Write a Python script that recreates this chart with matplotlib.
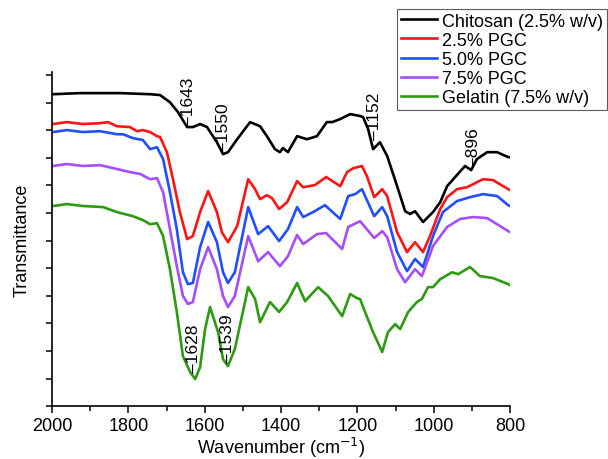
"""
FTIR spectra: chitosan, PGC films and gelatin (2000-800 cm-1).
"""

import numpy as np
import matplotlib.pyplot as plt
from matplotlib.ticker import MultipleLocator

plt.rcParams['font.family'] = ['Liberation Sans', 'DejaVu Sans']

# wavenumber (cm-1) and transmittance (a.u., offset curves)
wn_chitosan = [1997, 1927, 1822, 1743, 1717, 1691, 1670, 1646, 1631, 1612, 1594,
               1568, 1552, 1539, 1515, 1481, 1455, 1437, 1416, 1403, 1395, 1382,
               1358, 1332, 1306, 1280, 1266, 1245, 1219, 1193, 1185, 1172, 1159,
               1141, 1122, 1096, 1075, 1062, 1049, 1028, 1002, 983, 965, 949,
               918, 902, 887, 860, 834, 805, 800]
t_chitosan = [113.0, 113.4, 113.4, 113.0, 112.7, 110.1, 106.5, 101.1, 101.1, 102.2, 101.1,
              95.6, 91.3, 92.0, 96.7, 102.9, 101.4, 97.8, 93.1, 92.0, 93.5, 92.0,
              97.8, 96.7, 97.8, 102.9, 102.9, 104.0, 105.8, 105.1, 104.7, 100.4, 93.1,
              95.6, 90.6, 79.7, 70.6, 69.6, 70.6, 66.7, 70.3, 73.9, 79.7, 82.2,
              87.0, 85.5, 89.5, 92.0, 92.0, 90.2, 90.2]

wn_pgc25 = [1997, 1961, 1919, 1874, 1853, 1830, 1796, 1777, 1762, 1743, 1725,
            1717, 1699, 1683, 1665, 1646, 1631, 1612, 1591, 1568, 1555, 1539,
            1515, 1486, 1468, 1455, 1437, 1424, 1405, 1384, 1358, 1342, 1311,
            1282, 1245, 1227, 1211, 1188, 1175, 1156, 1135, 1122, 1096, 1070,
            1049, 1028, 1010, 983, 965, 939, 913, 897, 871, 845, 805, 800]
t_pgc25 = [102.2, 102.9, 102.2, 102.5, 102.9, 101.4, 101.1, 99.6, 100.0, 99.3, 97.8,
           97.5, 92.0, 82.2, 70.3, 60.5, 61.6, 70.3, 77.9, 70.3, 63.0, 59.4,
           65.2, 82.2, 78.6, 75.0, 76.4, 75.4, 71.4, 73.9, 81.5, 79.3, 80.1,
           83.0, 79.7, 84.8, 86.2, 87.0, 83.3, 75.7, 78.6, 76.1, 63.0, 55.8,
           59.4, 55.8, 61.6, 71.4, 75.7, 78.6, 79.3, 80.4, 82.2, 81.9, 78.6, 78.3]

wn_pgc50 = [1997, 1961, 1919, 1874, 1830, 1814, 1788, 1762, 1743, 1725, 1709,
            1691, 1673, 1657, 1644, 1631, 1612, 1591, 1568, 1552, 1539, 1521,
            1486, 1460, 1434, 1405, 1382, 1358, 1342, 1316, 1285, 1245, 1224,
            1206, 1188, 1156, 1135, 1122, 1096, 1070, 1049, 1028, 1002, 976,
            939, 905, 871, 834, 805, 800]
t_pgc50 = [99.3, 100.0, 99.3, 99.6, 98.5, 98.5, 97.1, 96.4, 93.1, 93.8, 89.5,
           77.5, 64.1, 48.5, 44.2, 44.6, 57.6, 66.7, 59.4, 48.5, 44.6, 48.5,
           72.1, 62.3, 65.2, 59.8, 64.1, 72.1, 68.5, 70.3, 72.8, 67.8, 76.1,
           76.8, 78.6, 68.8, 72.1, 68.8, 55.8, 48.9, 53.3, 50.4, 61.6, 70.3,
           74.3, 75.7, 76.8, 76.1, 72.8, 72.5]

wn_pgc75 = [1997, 1961, 1919, 1874, 1830, 1796, 1769, 1743, 1725, 1709, 1691,
            1673, 1657, 1644, 1631, 1612, 1591, 1568, 1552, 1539, 1521, 1486,
            1460, 1434, 1403, 1382, 1358, 1342, 1306, 1282, 1240, 1224, 1193,
            1156, 1135, 1122, 1096, 1075, 1049, 1031, 1002, 965, 931, 897,
            860, 805, 800]
t_pgc75 = [87.0, 87.7, 87.0, 87.3, 85.9, 84.8, 84.1, 82.2, 82.6, 77.5, 64.1,
           50.7, 39.9, 37.0, 37.7, 49.6, 57.6, 49.6, 39.9, 35.9, 39.9, 61.6,
           52.5, 55.8, 50.7, 54.3, 62.0, 58.7, 62.3, 62.7, 56.9, 64.9, 67.0,
           60.9, 63.4, 61.2, 49.6, 44.9, 49.6, 47.1, 58.0, 64.9, 67.8, 68.5,
           68.1, 63.4, 63.0]

wn_gelatin = [1997, 1961, 1919, 1866, 1830, 1788, 1762, 1743, 1725, 1709, 1691,
              1673, 1657, 1638, 1625, 1612, 1599, 1586, 1565, 1552, 1539, 1521,
              1486, 1468, 1455, 1429, 1405, 1384, 1358, 1337, 1303, 1277, 1240,
              1219, 1201, 1193, 1180, 1159, 1135, 1120, 1101, 1088, 1067, 1044,
              1031, 1015, 1002, 983, 952, 936, 905, 879, 845, 805, 800]
t_gelatin = [72.5, 73.2, 72.5, 72.1, 70.3, 68.8, 67.4, 65.9, 66.3, 61.6, 49.6,
             34.1, 18.1, 12.3, 9.8, 14.1, 27.9, 35.9, 26.8, 17.0, 14.5, 20.7,
             43.1, 38.8, 30.4, 37.7, 34.1, 37.7, 44.6, 38.0, 43.1, 39.9, 32.6,
             40.6, 39.1, 38.8, 34.1, 26.8, 19.6, 26.8, 29.7, 27.9, 34.1, 37.7,
             38.8, 43.1, 43.1, 46.0, 48.5, 47.8, 50.4, 47.1, 46.4, 44.2, 43.8]

labels = ['Chitosan (2.5% w/v)', '2.5% PGC', '5.0% PGC', '7.5% PGC',
          'Gelatin (7.5% w/v)']
colors = ['#000000', '#ff1414', '#1f4fff', '#a64dff', '#2e9a12']

# peak labels: (wavenumber, height of label base)
peaks = ['1643', '1550', '1152', '896', '1628', '1539']
peak_pos = [(1643, 101.8), (1552, 92.4), (1154, 96.7), (896, 87.0),
            (1630, 12.3), (1540, 15.9)]


def plot_ftir():
    fig = plt.figure(figsize=(6.08, 4.60), dpi=100)
    ax = fig.add_axes([0.0855, 0.115, 0.7535, 0.726])

    series = [(wn_chitosan, t_chitosan), (wn_pgc25, t_pgc25),
              (wn_pgc50, t_pgc50), (wn_pgc75, t_pgc75),
              (wn_gelatin, t_gelatin)]
    for (x, y), lab, c in zip(series, labels, colors):
        ax.plot(x, y, color=c, lw=1.9, label=lab, solid_joinstyle='round')

    for txt, (x, y) in zip(peaks, peak_pos):
        ax.text(x, y, '\u2013' + txt, rotation=90, ha='center', va='bottom',
                fontsize=12.5)

    ax.set_xlim(2000, 800)
    ax.set_ylim(0, 121)
    ax.xaxis.set_major_locator(MultipleLocator(200))
    ax.xaxis.set_minor_locator(MultipleLocator(100))
    ax.yaxis.set_major_locator(MultipleLocator(10))
    ax.set_yticklabels([])
    ax.tick_params(axis='both', which='major', direction='out', length=5,
                   width=1.1, labelsize=13, pad=2.5)
    ax.tick_params(axis='x', which='minor', direction='out', length=3.5, width=1.1)
    ax.tick_params(axis='y', which='major', length=4)

    for s in ['top', 'right']:
        ax.spines[s].set_visible(False)
    for s in ['left', 'bottom']:
        ax.spines[s].set_linewidth(1.2)

    ax.set_xlabel('Wavenumber (cm$^{\u22121}$)', fontsize=13, labelpad=1)
    ax.set_ylabel('Transmittance', fontsize=13, labelpad=9)

    leg = ax.legend(loc='upper left', bbox_to_anchor=(397 / 608, 1 - 10 / 460),
                    bbox_transform=fig.transFigure, frameon=True, fancybox=False,
                    fontsize=13, handlelength=2.0, handletextpad=0.3,
                    labelspacing=0.12, borderpad=0.2, borderaxespad=0)
    leg.get_frame().set_edgecolor('#333333')
    leg.get_frame().set_linewidth(0.8)

    return fig


if __name__ == "__main__":
    fig = plot_ftir()
    fig.savefig('out.png', dpi=100)
